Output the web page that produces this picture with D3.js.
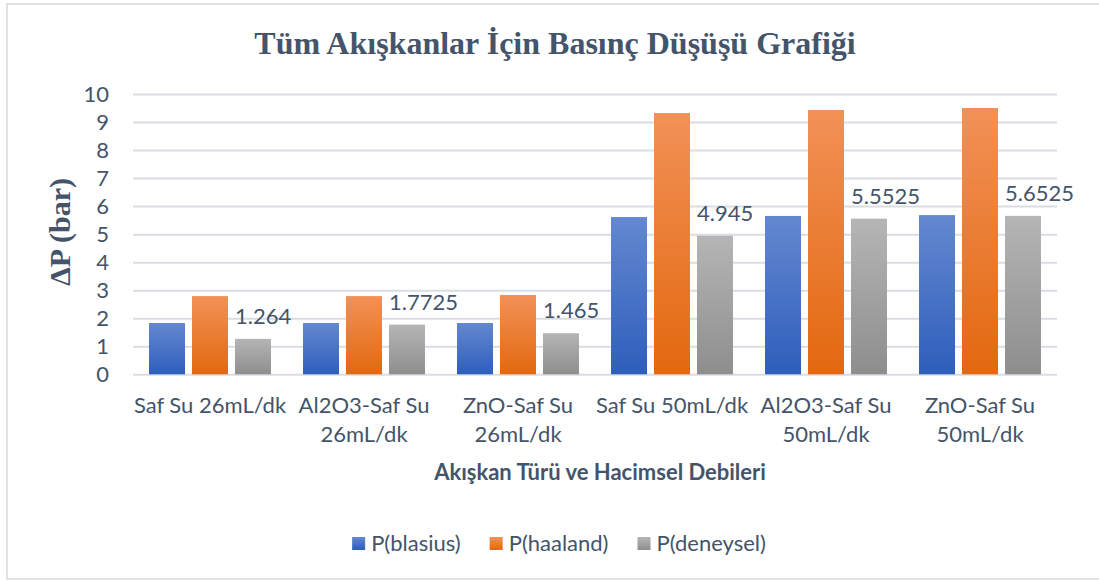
<!DOCTYPE html>
<html><head><meta charset="utf-8">
<script src="https://cdn.jsdelivr.net/npm/d3@7"></script>
<style>body{margin:0;background:#fff} svg{display:block}</style>
</head><body><svg id="c" width="1099" height="581"></svg>
<script>
const categories = ["Saf Su 26mL/dk","Al2O3-Saf Su 26mL/dk","ZnO-Saf Su 26mL/dk","Saf Su 50mL/dk","Al2O3-Saf Su 50mL/dk","ZnO-Saf Su 50mL/dk"];
const seriesNames = ["P(blasius)","P(haaland)","P(deneysel)"];
const blasius = [1.83,1.83,1.83,5.61,5.65,5.68];
const haaland = [2.79,2.79,2.83,9.32,9.43,9.50];
const deneysel = [1.264,1.7725,1.465,4.945,5.5525,5.6525];
const yTicks = [0,1,2,3,4,5,6,7,8,9,10];
const titleText = "Tüm Akışkanlar İçin Basınç Düşüşü Grafiği";
const yTitleText = "ΔP (bar)";
const xTitleText = "Akışkan Türü ve Hacimsel Debileri";

const seriesValues = [blasius, haaland, deneysel];
const gradTop = ["#6488D0","#F29157","#B5B5B5"];
const gradBot = ["#2E5EBB","#E3680F","#8E8E8E"];
const textColor = "#44546A";
const sans = "Lato, 'Open Sans', sans-serif";
const serif = "'Liberation Serif', 'Times New Roman', serif";

const svg = d3.select("#c");
const defs = svg.append("defs");
seriesNames.forEach((s,i)=>{
  const g = defs.append("linearGradient").attr("id","g"+i).attr("x1",0).attr("y1",0).attr("x2",0).attr("y2",1);
  g.append("stop").attr("offset","0%").attr("stop-color",gradTop[i]);
  g.append("stop").attr("offset","100%").attr("stop-color",gradBot[i]);
});

svg.append("rect").attr("x",7).attr("y",4).attr("width",1110).attr("height",575)
  .attr("fill","#fff").attr("stroke","#D9D9D9").attr("stroke-width",1.5);

const pL = 133, pR = 1057, pT = 94, pB = 374.3;
const x0 = d3.scaleBand().domain(categories).range([pL,pR]).paddingInner(0.208).paddingOuter(0.104);
const x1 = d3.scaleBand().domain(seriesNames).range([0,x0.bandwidth()]).paddingInner(7/43).paddingOuter(0);
const y = d3.scaleLinear().domain([0,10]).range([pB,pT]);

// y axis with gridlines
const yAxis = svg.append("g").attr("transform",`translate(${pL},0)`)
  .call(d3.axisLeft(y).tickValues(yTicks).tickSize(-(pR-pL)).tickPadding(24).tickFormat(d3.format("d")));
yAxis.select(".domain").remove();
yAxis.selectAll(".tick line").attr("stroke","#D9DDE3").attr("stroke-width",2);
yAxis.selectAll(".tick text").attr("fill",textColor).style("font-family",sans).style("font-size","22px");

// bars
const groups = svg.append("g").selectAll("g").data(categories).join("g")
  .attr("transform",d=>`translate(${x0(d)},0)`);
groups.selectAll("rect").data((c,ci)=>seriesNames.map((s,si)=>({s,si,v:seriesValues[si][ci]}))).join("rect")
  .attr("x",d=>x1(d.s)).attr("width",x1.bandwidth())
  .attr("y",d=>y(d.v)).attr("height",d=>y(0)-y(d.v))
  .attr("fill",d=>`url(#g${d.si})`);

// data labels for deneysel
svg.append("g").selectAll("text").data(categories).join("text")
  .attr("x",(c)=>x0(c)+x1("P(deneysel)"))
  .attr("y",(c,i)=>y(deneysel[i])-15)
  .attr("text-anchor","start")
  .attr("fill",textColor).style("font-family",sans).style("font-size","22px")
  .text((c,i)=>String(deneysel[i]));

// category labels (wrapped)
const catG = svg.append("g");
categories.forEach(c=>{
  const cxp = x0(c)+x0.bandwidth()/2;
  const t = catG.append("text").attr("x",cxp).attr("y",413)
    .attr("text-anchor","middle").attr("fill",textColor).style("font-family",sans).style("font-size","22px");
  const words = c.split(" ");
  let line = [];
  let tspan = t.append("tspan").attr("x",cxp).attr("dy",0);
  const maxW = x0.step()+8;
  words.forEach(w=>{
    line.push(w);
    tspan.text(line.join(" "));
    if (tspan.node().getComputedTextLength() > maxW && line.length>1){
      line.pop(); tspan.text(line.join(" "));
      line=[w];
      tspan = t.append("tspan").attr("x",cxp).attr("dy",29).text(w);
    }
  });
});

// titles
svg.append("text").attr("x",555).attr("y",54).attr("text-anchor","middle")
  .attr("fill",textColor).style("font-family",serif).style("font-weight","bold").style("font-size","32px")
  .text(titleText);
svg.append("text").attr("transform","translate(70,232) rotate(-90)").attr("text-anchor","middle")
  .attr("fill",textColor).style("font-family",serif).style("font-weight","bold").style("font-size","30px")
  .text(yTitleText);
svg.append("text").attr("x",600).attr("y",480).attr("text-anchor","middle")
  .attr("fill",textColor).style("font-family",sans).style("font-weight","bold").style("font-size","22px")
  .text(xTitleText);

// legend
const lg = svg.append("g");
const items = seriesNames.map((s,i)=>{
  const g = lg.append("g");
  g.append("rect").attr("x",0).attr("y",-6).attr("width",13).attr("height",13).attr("fill",`url(#g${i})`);
  const t = g.append("text").attr("x",19).attr("y",0).attr("dy","0.35em").attr("fill",textColor)
    .style("font-family",sans).style("font-size","22px").text(s);
  return {g, w: 19 + t.node().getComputedTextLength()};
});
const gap = 29;
const total = d3.sum(items,d=>d.w) + gap*(items.length-1);
let cx = 559 - total/2;
items.forEach(it=>{ it.g.attr("transform",`translate(${cx},543)`); cx += it.w + gap; });
</script></body></html>
